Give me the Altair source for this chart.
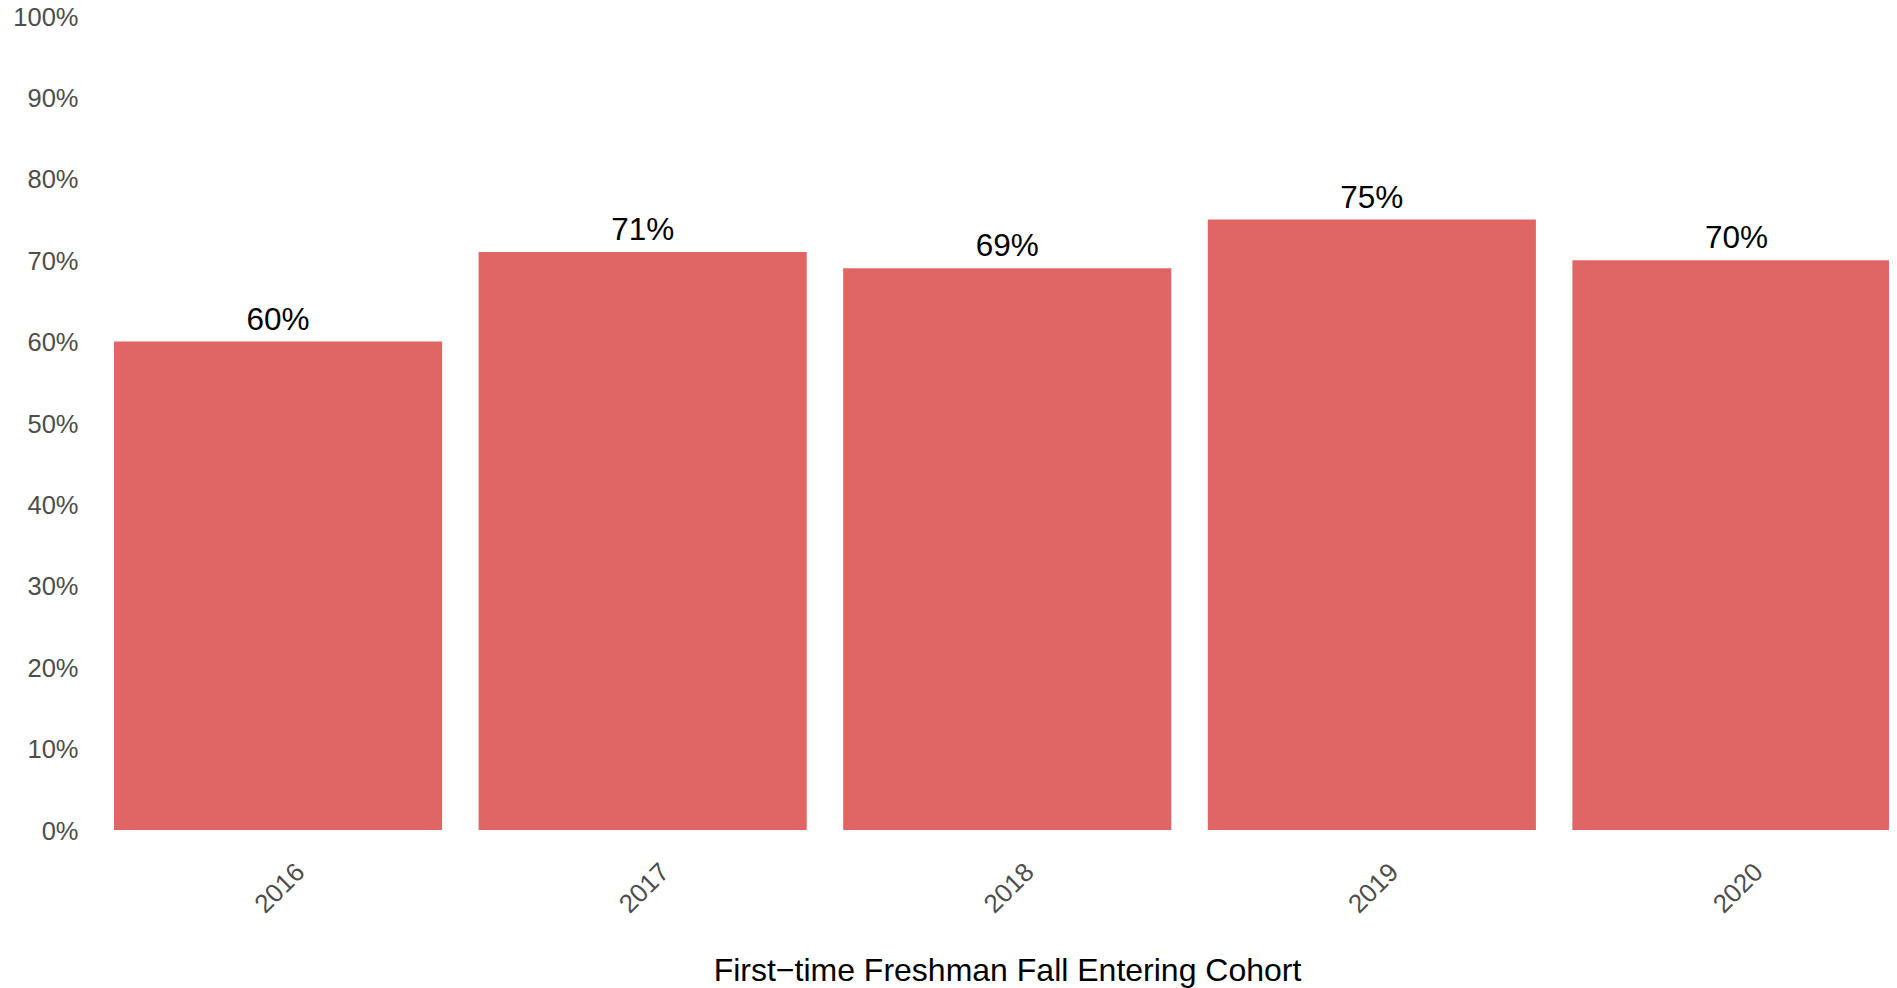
import altair as alt
import pandas as pd

years = ["2016", "2017", "2018", "2019", "2020"]
rates = [0.60, 0.71, 0.69, 0.75, 0.70]
y_ticks = [0.0, 0.1, 0.2, 0.3, 0.4, 0.5, 0.6, 0.7, 0.8, 0.9, 1.0]

df = pd.DataFrame({"year": years, "rate": rates})

FONT = "Liberation Sans"
BAR = "#E06666"

x_enc = alt.X(
    "year:N",
    sort=years,
    scale=alt.Scale(range=[32, 1818.5], paddingInner=0.1, paddingOuter=0, round=False),
    axis=alt.Axis(
        title="First\u2212time Freshman Fall Entering Cohort",
        titleFont=FONT,
        titleFontSize=32,
        titleFontWeight="normal",
        titleColor="#000000",
        titleX=925,
        titleY=150,
        titleAlign="center",
        titleBaseline="alphabetic",
        labelFont=FONT,
        labelFontSize=26,
        labelColor="#4D4D4D",
        labelAngle=-45,
        labelAlign="center",
        labelBaseline="middle",
        labelPadding=58,
        labelOffset=2,
        ticks=False,
        domain=False,
        grid=False,
    ),
)

y_enc = alt.Y(
    "rate:Q",
    scale=alt.Scale(domain=[0, 1], nice=False, zero=True),
    axis=alt.Axis(
        title=None,
        values=y_ticks,
        format=".0%",
        labelFont=FONT,
        labelFontSize=25.5,
        labelColor="#4D4D4D",
        labelPadding=4,
        labelOffset=1,
        ticks=False,
        domain=False,
        grid=False,
    ),
)

bars = alt.Chart(df).mark_bar(color=BAR, clip=True).encode(x=x_enc, y=y_enc)

labels = (
    alt.Chart(df)
    .mark_text(
        font=FONT,
        fontSize=31.5,
        color="#000000",
        align="center",
        baseline="alphabetic",
        dy=-12,
        clip=True,
    )
    .encode(
        x=alt.X("year:N", sort=years),
        y=alt.Y("rate:Q"),
        text=alt.Text("rate:Q", format=".0%"),
    )
)

chart = (
    alt.layer(bars, labels)
    .properties(
        width=1807,
        height=814,
        padding={"left": 74, "top": 8, "right": 0, "bottom": 158},
        autosize=alt.AutoSizeParams(type="none"),
        background="#FFFFFF",
    )
    .configure_view(stroke="transparent", strokeWidth=0)
    .configure_axis(grid=False, domain=False, ticks=False)
)

chart.save("out.html", embed_options={"renderer": "svg", "actions": False})
